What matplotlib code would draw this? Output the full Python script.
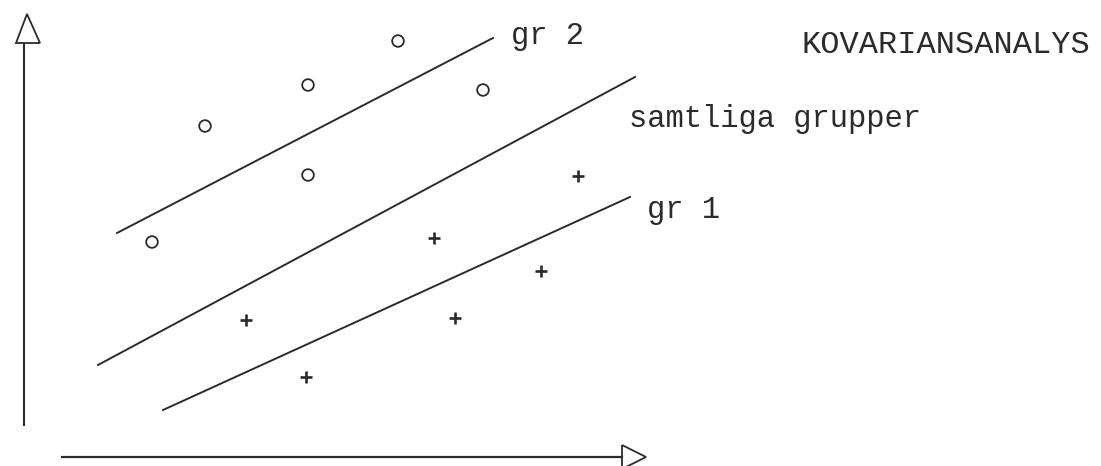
import matplotlib.pyplot as plt
from matplotlib.patches import Polygon

# positions (pixel-like units, y downwards)
grupp2_x = [398, 308, 483, 205, 308, 152]
grupp2_y = [41, 85, 90, 126, 175, 242]
grupp1_x = [578, 434, 541, 246, 455, 306]
grupp1_y = [176, 238, 271, 320, 318, 377]

# regression lines: (x0, y0, x1, y1)
linje_gr2 = (117, 233, 493, 38)
linje_alla = (98, 365, 635, 77)
linje_gr1 = (163, 410, 630, 197)

etiketter = ["gr 2", "samtliga grupper", "gr 1"]
etikett_pos = [(511, 36), (629, 119), (647, 210)]
rubrik = "KOVARIANSANALYS"

ink = "#2b2b2b"
mono = ["Liberation Mono", "DejaVu Sans Mono"]

fig = plt.figure(figsize=(11.01, 4.66), dpi=100)
ax = fig.add_axes([0, 0, 1, 1])
ax.set_xlim(0, 1101)
ax.set_ylim(466, 0)
ax.axis("off")

# axes with open triangle arrow heads
ax.plot([24, 24], [44, 425], color=ink, lw=1.5)
ax.add_patch(Polygon([[27, 14], [16, 43], [40, 43]], closed=True,
                     fill=False, edgecolor=ink, lw=1.3))
ax.plot([62, 622], [457, 457], color=ink, lw=1.6)
ax.add_patch(Polygon([[622, 445], [646, 457], [622, 469]], closed=True,
                     fill=False, edgecolor=ink, lw=1.3, clip_on=False))

for x0, y0, x1, y1 in [linje_gr2, linje_alla, linje_gr1]:
    ax.plot([x0, x1], [y0, y1], color=ink, lw=1.4)

ax.scatter(grupp2_x, grupp2_y, s=70, marker="o", facecolors="none",
           edgecolors=ink, linewidths=1.3)
ax.scatter(grupp1_x, grupp1_y, s=70, marker="+", color=ink, linewidths=1.9)

for txt, (tx, ty) in zip(etiketter, etikett_pos):
    ax.text(tx, ty, txt, family=mono, fontsize=22, color=ink,
            va="center", ha="left")
ax.text(801, 45, rubrik, family=mono, fontsize=23, color=ink,
        va="center", ha="left")

fig.savefig("out.png", dpi=100)
